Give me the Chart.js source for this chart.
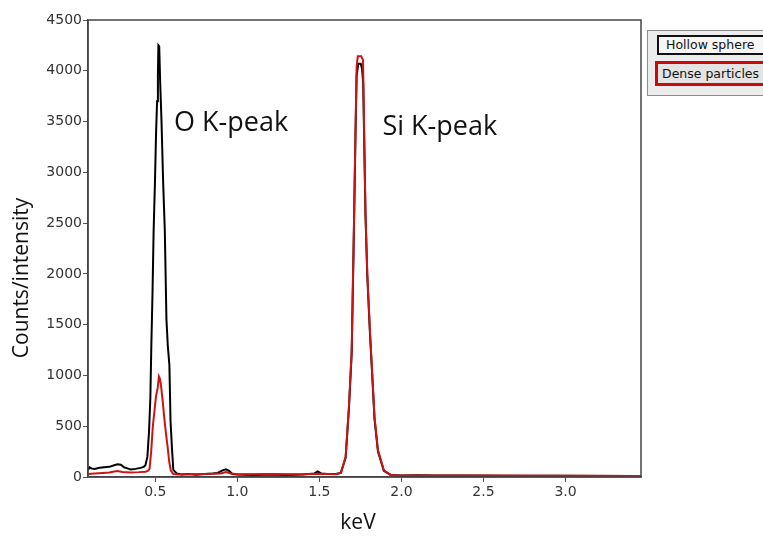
<!DOCTYPE html>
<html>
<head>
<meta charset="utf-8">
<script src="https://cdn.jsdelivr.net/npm/chart.js@4"></script>
<style>
  html, body { margin: 0; padding: 0; background: #fff; }
  #wrap { position: relative; width: 763px; height: 536px; overflow: hidden; }
  #legend { position: absolute; left: 647px; top: 30px; width: 130px; height: 66px;
            background: #ececec; border: 1px solid #8c8c8c; box-sizing: border-box; }
  .item { position: absolute; font: 12.5px "DejaVu Sans", sans-serif; color: #111; white-space: nowrap; box-sizing: border-box; }
  #item-hollow { left: 9px; top: 4px; width: 130px; height: 20px; line-height: 16px; padding-left: 7px;
                 border: 2px solid #111; background: #f6f6f6; }
  #item-dense { left: 7px; top: 30px; width: 130px; height: 25px; line-height: 19px; padding-left: 4px;
                border: 3px solid #cc0a0a; background: #e4e4e4; }
</style>
</head>
<body>
<div id="wrap">
  <canvas id="spectrum" width="763" height="536"></canvas>
  <div id="legend">
    <div class="item" id="item-hollow">Hollow sphere</div>
    <div class="item" id="item-dense">Dense particles</div>
  </div>
</div>
<script>
// EDS spectra, counts vs energy (keV)
const hollowKeV = [0.09, 0.10, 0.11, 0.13, 0.16, 0.19, 0.22, 0.25, 0.27, 0.29, 0.31, 0.33, 0.35, 0.38, 0.41, 0.43, 0.44,
    0.452, 0.462, 0.470, 0.476, 0.483, 0.490, 0.498, 0.505, 0.511, 0.516, 0.519, 0.524, 0.530, 0.538, 0.548, 0.558,
    0.568, 0.576, 0.586, 0.593, 0.601, 0.610, 0.63, 0.66, 0.70, 0.75, 0.80, 0.85, 0.88, 0.91, 0.93, 0.95, 0.97, 1.00,
    1.10, 1.20, 1.30, 1.40, 1.47, 1.49, 1.51, 1.55, 1.60, 1.63, 1.66, 1.68, 1.697, 1.710, 1.720, 1.727, 1.737, 1.752,
    1.760, 1.767, 1.781, 1.792, 1.808, 1.822, 1.836, 1.857, 1.893, 1.935, 2.00, 2.10, 2.20, 2.40, 2.65, 3.00, 3.40, 3.46];
const hollowCounts = [70, 95, 85, 80, 90, 95, 100, 115, 125, 120, 95, 85, 75, 80, 90, 100, 115,
    200, 450, 780, 1300, 1800, 2430, 2900, 3400, 3700, 3950, 4250, 4240, 3880, 3500, 2900, 2430,
    1550, 1300, 1100, 550, 300, 70, 35, 25, 30, 22, 30, 35, 40, 65, 75, 60, 30, 25,
    20, 25, 20, 25, 35, 55, 35, 30, 30, 40, 190, 670, 1220, 2380, 3350, 3950, 4070, 4070,
    4020, 3880, 2580, 1980, 1420, 1000, 570, 250, 60, 20, 15, 18, 15, 14, 12, 12, 10, 10];

const denseKeV = [0.09, 0.13, 0.18, 0.22, 0.25, 0.27, 0.30, 0.35, 0.40, 0.44, 0.455, 0.465, 0.475, 0.485, 0.495,
    0.505, 0.515, 0.522, 0.528, 0.535, 0.545, 0.555, 0.565, 0.575, 0.585, 0.595, 0.61, 0.65, 0.70, 0.80, 0.90, 0.93,
    0.96, 1.00, 1.20, 1.40, 1.50, 1.60, 1.632, 1.660, 1.680, 1.697, 1.710, 1.720, 1.727, 1.734, 1.755, 1.766, 1.781,
    1.792, 1.808, 1.822, 1.836, 1.857, 1.893, 1.935, 2.00, 2.50, 3.00, 3.46];
const denseCounts = [30, 35, 40, 45, 55, 60, 50, 45, 48, 52, 60, 80, 250, 500, 650,
    800, 880, 990, 970, 900, 750, 580, 430, 300, 150, 60, 30, 25, 28, 30, 35, 50,
    35, 28, 30, 28, 32, 28, 40, 200, 692, 1250, 2431, 3415, 4040, 4144, 4144, 4104, 2600,
    2007, 1447, 1023, 594, 266, 66, 20, 15, 14, 12, 10];

const xTickValues = [0.5, 1.0, 1.5, 2.0, 2.5, 3.0];
const yTickValues = [0, 500, 1000, 1500, 2000, 2500, 3000, 3500, 4000, 4500];

const xTitle = 'keV';
const yTitle = 'Counts/intensity';

const peakLabels = [
    { text: 'O K-peak', keV: 0.614, counts: 3408 },
    { text: 'Si K-peak', keV: 1.884, counts: 3366 }
];

const toPoints = (xs, ys) => xs.map((x, i) => ({ x, y: ys[i] }));

// frame round the plot, axis titles and peak captions
const framePlugin = {
    id: 'frame',
    afterDatasetsDraw(chart) {
        const { ctx, chartArea: a, scales } = chart;
        ctx.save();
        ctx.strokeStyle = '#444';
        ctx.lineWidth = 1.5;
        ctx.strokeRect(a.left, a.top, a.right - a.left, a.bottom - a.top);

        ctx.fillStyle = '#111';
        ctx.font = "27px 'Open Sans', sans-serif";
        ctx.textAlign = 'left';
        ctx.textBaseline = 'alphabetic';
        peakLabels.forEach(p => {
            ctx.fillText(p.text, scales.x.getPixelForValue(p.keV), scales.y.getPixelForValue(p.counts));
        });

        ctx.font = "21px 'Open Sans', sans-serif";
        ctx.textAlign = 'center';
        ctx.textBaseline = 'middle';
        ctx.fillText(xTitle, 358, 523);
        ctx.translate(22, 278);
        ctx.rotate(-Math.PI / 2);
        ctx.fillText(yTitle, 0, 0);
        ctx.restore();
    }
};

const tickFont = { family: "'DejaVu Sans', sans-serif", size: 14 };

new Chart(document.getElementById('spectrum'), {
    type: 'line',
    data: {
        datasets: [
            {
                label: 'Hollow sphere',
                data: toPoints(hollowKeV, hollowCounts),
                borderColor: '#000',
                borderWidth: 2,
                pointRadius: 0,
                tension: 0,
                order: 1
            },
            {
                label: 'Dense particles',
                data: toPoints(denseKeV, denseCounts),
                borderColor: '#cc1414',
                borderWidth: 2,
                pointRadius: 0,
                tension: 0,
                order: 0
            }
        ]
    },
    options: {
        responsive: false,
        animation: false,
        layout: { padding: { left: 0, top: 20, right: 122, bottom: 0 } },
        scales: {
            x: {
                type: 'linear',
                min: 0.09,
                max: 3.46,
                afterFit: (s) => { s.height = 59; },
                afterBuildTicks: (s) => { s.ticks = xTickValues.map(v => ({ value: v })); },
                grid: { drawOnChartArea: false, tickLength: 5, color: '#555' },
                border: { color: '#444', width: 1.5 },
                ticks: { font: tickFont, color: '#333', padding: 2, maxRotation: 0,
                         callback: (v) => v.toFixed(1) }
            },
            y: {
                min: 0,
                max: 4500,
                afterFit: (s) => { s.width = 88; },
                afterBuildTicks: (s) => { s.ticks = yTickValues.map(v => ({ value: v })); },
                grid: { drawOnChartArea: false, tickLength: 5, color: '#555' },
                border: { color: '#444', width: 1.5 },
                ticks: { font: tickFont, color: '#333', padding: 1, callback: (v) => String(v) }
            }
        },
        plugins: {
            legend: { display: false },
            tooltip: { enabled: false }
        }
    },
    plugins: [framePlugin]
});
</script>
</body>
</html>
